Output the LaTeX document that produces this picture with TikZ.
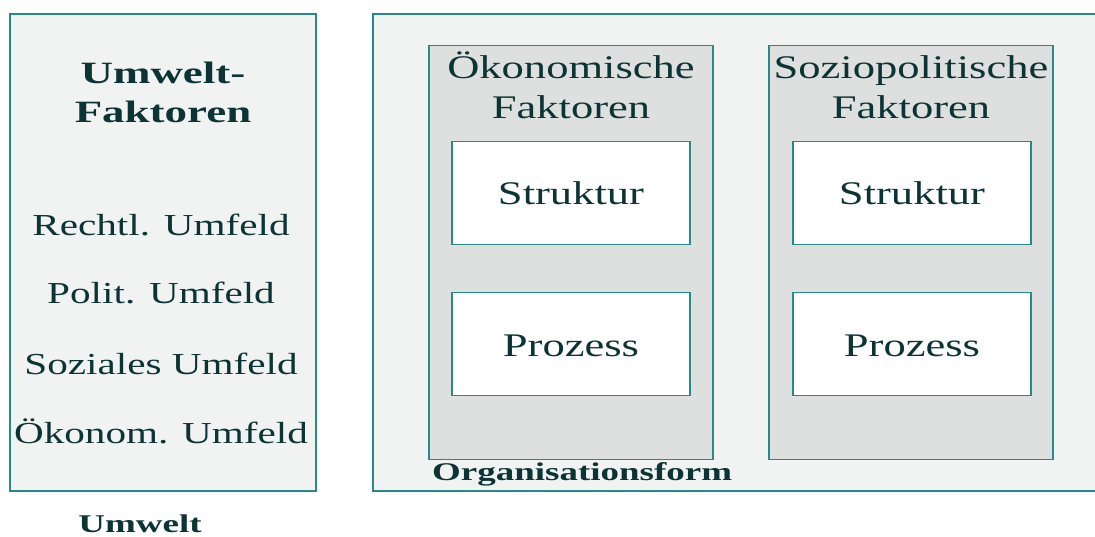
\documentclass[tikz,border=0pt]{standalone}
\usepackage{fontspec}
\setmainfont{Liberation Serif}[FakeStretch=1.35, BoldFeatures={FakeStretch=1.45}]
\definecolor{rim}{RGB}{38,138,138}
\definecolor{ink}{RGB}{12,52,52}
\definecolor{paper}{RGB}{241,242,242}
\definecolor{column}{RGB}{222,223,223}
\tikzset{
  box/.style={draw=rim, line width=1.8pt, inner sep=0pt},
  outerbox/.style={box, fill=paper},
  colbox/.style={box, fill=column},
  innerbox/.style={box, fill=white, minimum width=238, minimum height=103},
  txt/.style={text=ink, inner sep=0pt, anchor=base},
  big/.style={txt, font=\fontsize{33}{40}\selectfont},
  list/.style={txt, font=\fontsize{30.5}{36}\selectfont},
  head/.style={txt, font=\bfseries\fontsize{31}{39}\selectfont, align=center},
  caption/.style={txt, font=\bfseries\fontsize{25.5}{30}\selectfont}
}
\begin{document}
\begin{tikzpicture}[x=1pt, y=-1pt]
	\clip (0,0) rectangle (1095,536);
	\fill[white] (0,0) rectangle (1095,536);
	% Umwelt
	\node[outerbox, minimum width=306, minimum height=477] (umwelt) at (163,252.5) {};
	\node[head] (hd) at (163,122) {Umwelt-\\Faktoren};
	\node[list] (u1) at (161,235) {Rechtl. Umfeld};
	\node[list] (u2) at (161,303) {Polit. Umfeld};
	\node[list] (u3) at (161,374) {Soziales Umfeld};
	\node[list] (u4) at (161,443) {Ökonom. Umfeld};
	\node[caption] (lu) at (140,532) {Umwelt};
	% Organisationsform
	\node[outerbox, minimum width=727, minimum height=477] (org) at (736.5,252.5) {};
	\node[colbox, minimum width=284, minimum height=414] (oek) at (571,252.5) {};
	\node[colbox, minimum width=284, minimum height=414] (soz) at (911,252.5) {};
	\node[big] (t1) at (571,78) {Ökonomische};
	\node[big] (t2) at (571,118) {Faktoren};
	\node[big] (t3) at (911,78) {Soziopolitische};
	\node[big] (t4) at (911,118) {Faktoren};
	\node[innerbox] (s1) at (571,193) {};
	\node[innerbox] (p1) at (571,344) {};
	\node[innerbox] (s2) at (912,193) {};
	\node[innerbox] (p2) at (912,344) {};
	\node[big] at (571,204) {Struktur};
	\node[big] at (571,356) {Prozess};
	\node[big] at (912,204) {Struktur};
	\node[big] at (912,356) {Prozess};
	\node[caption, anchor=base west] (lo) at (432,480) {Organisationsform};
\end{tikzpicture}
\end{document}
